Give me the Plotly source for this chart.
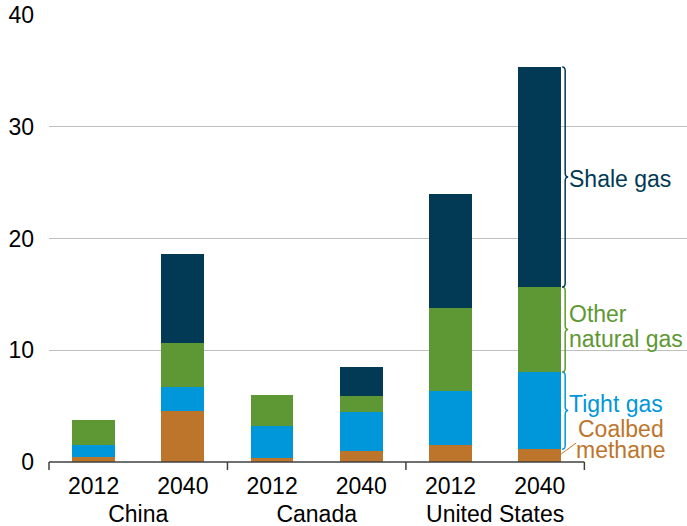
import plotly.graph_objects as go

# data
countries = ["China", "China", "Canada", "Canada", "United States", "United States"]
years = ["2012", "2040", "2012", "2040", "2012", "2040"]

coalbed = [0.45, 4.55, 0.4, 0.95, 1.5, 1.15]
tight = [1.05, 2.15, 2.85, 3.55, 4.85, 6.9]
other = [2.25, 3.95, 2.75, 1.4, 7.45, 7.6]
shale = [0, 7.95, 0, 2.6, 10.2, 19.7]

series = [
    ("Coalbed methane", coalbed, "#BD752C"),
    ("Tight gas", tight, "#0097DA"),
    ("Other natural gas", other, "#5E9834"),
    ("Shale gas", shale, "#023A55"),
]

FONT = "Liberation Sans, Arial, sans-serif"
FS = 23
W, H = 687, 526
ML, MR, MT = 49, 0, 15
BOT = 462          # pixel row of y = 0
AXIS_DROP = 8      # category labels sit a bit lower than the bars' base
MB = H - BOT - AXIS_DROP
PLOT_W = W - ML - MR
PAPER_H = H - MT - MB
PLOT_H = BOT - MT
BARGAP = 0.52
X_MIN, X_MAX = -0.5, 6.65


def xp(v):
    # category index -> paper x
    return (v - X_MIN) / (X_MAX - X_MIN)


def px_w(p):
    # pixels -> paper width
    return p / PLOT_W


def px_h(p):
    # pixels -> data units on y
    return p * 40 / PLOT_H


def yp(row):
    # pixel row -> paper y
    return (H - MB - row) / PAPER_H


fig = go.Figure()
for name, vals, color in series:
    fig.add_trace(go.Bar(
        x=[countries, years],
        y=vals,
        name=name,
        marker_color=color,
        marker_line_width=0,
    ))

fig.update_layout(
    barmode="stack",
    bargap=BARGAP,
    width=W,
    height=H,
    margin=dict(l=ML, r=MR, t=MT, b=MB),
    plot_bgcolor="white",
    paper_bgcolor="white",
    showlegend=False,
    font=dict(family=FONT, size=FS, color="#000000"),
)

fig.update_xaxes(
    type="multicategory",
    range=[X_MIN, X_MAX],
    anchor="free",
    position=0,
    automargin=False,
    showline=False,
    showgrid=False,
    showdividers=False,
    ticks="",
    tickfont=dict(size=FS, color="#000000"),
)
fig.update_yaxes(
    range=[0, 40],
    domain=[yp(BOT), 1],
    tickvals=[0, 10, 20, 30, 40],
    automargin=False,
    showgrid=True,
    gridcolor="#BFBFBF",
    gridwidth=1,
    zeroline=False,
    showline=False,
    ticks="",
    ticklabelstandoff=14,
    tickfont=dict(size=FS, color="#000000"),
)

# bottom axis line and group separators
fig.add_shape(type="line", xref="paper", yref="paper", x0=xp(-0.5), x1=xp(5.5),
              y0=yp(BOT), y1=yp(BOT), line=dict(color="#404040", width=1.5))
for b in [-0.5, 1.5, 3.5, 5.5]:
    fig.add_shape(type="line", xref="paper", yref="paper", x0=xp(b), x1=xp(b),
                  y0=yp(BOT), y1=yp(BOT + 8), line=dict(color="#404040", width=1.5))

# braces beside the last bar
last = len(years) - 1
half = (1 - BARGAP) / 2
x0 = xp(last + half) + px_w(1)
x1 = x0 + px_w(3)
x2 = x0 + px_w(6)
c = px_h(4)

bottom = 0.0
mids = {}
for name, vals, color in series:
    lo, hi = bottom, bottom + vals[last]
    bottom = hi
    mid = (lo + hi) / 2
    mids[name] = mid
    if name == "Coalbed methane":
        continue
    path = (f"M {x0},{hi} Q {x1},{hi} {x1},{hi - c} L {x1},{mid + c} "
            f"Q {x1},{mid} {x2},{mid} Q {x1},{mid} {x1},{mid - c} "
            f"L {x1},{lo + c} Q {x1},{lo} {x0},{lo}")
    fig.add_shape(type="path", xref="paper", yref="y", path=path,
                  line=dict(color=color, width=1.5))

# coalbed leader line
fig.add_shape(type="line", xref="paper", yref="y",
              x0=x0 - px_w(1), y0=0.72, x1=x0 + px_w(14), y1=1.7,
              line=dict(color="#BD752C", width=1))

tx = x0 + px_w(6)
labels = [
    ("Shale gas", mids["Shale gas"] - px_h(2), "#023A55", "left", tx),
    ("Other", mids["Other natural gas"] + px_h(16), "#5E9834", "left", tx),
    ("natural gas", mids["Other natural gas"] - px_h(9), "#5E9834", "left", tx),
    ("Tight gas", mids["Tight gas"] + px_h(6.5), "#0097DA", "left", tx),
    ("Coalbed", 2.95, "#BD752C", "center", tx + px_w(53)),
    ("methane", 1.1, "#BD752C", "center", tx + px_w(53)),
]
for text, y, color, anchor, x in labels:
    fig.add_annotation(text=text, x=x, y=y, xref="paper", yref="y",
                       xanchor=anchor, yanchor="middle", showarrow=False,
                       borderpad=0, font=dict(family=FONT, size=FS, color=color))

# drop the default page margin so the figure fills the window
fig.write_html("out.html", config={"displayModeBar": False},
               post_script="document.body.style.margin = '0';")
